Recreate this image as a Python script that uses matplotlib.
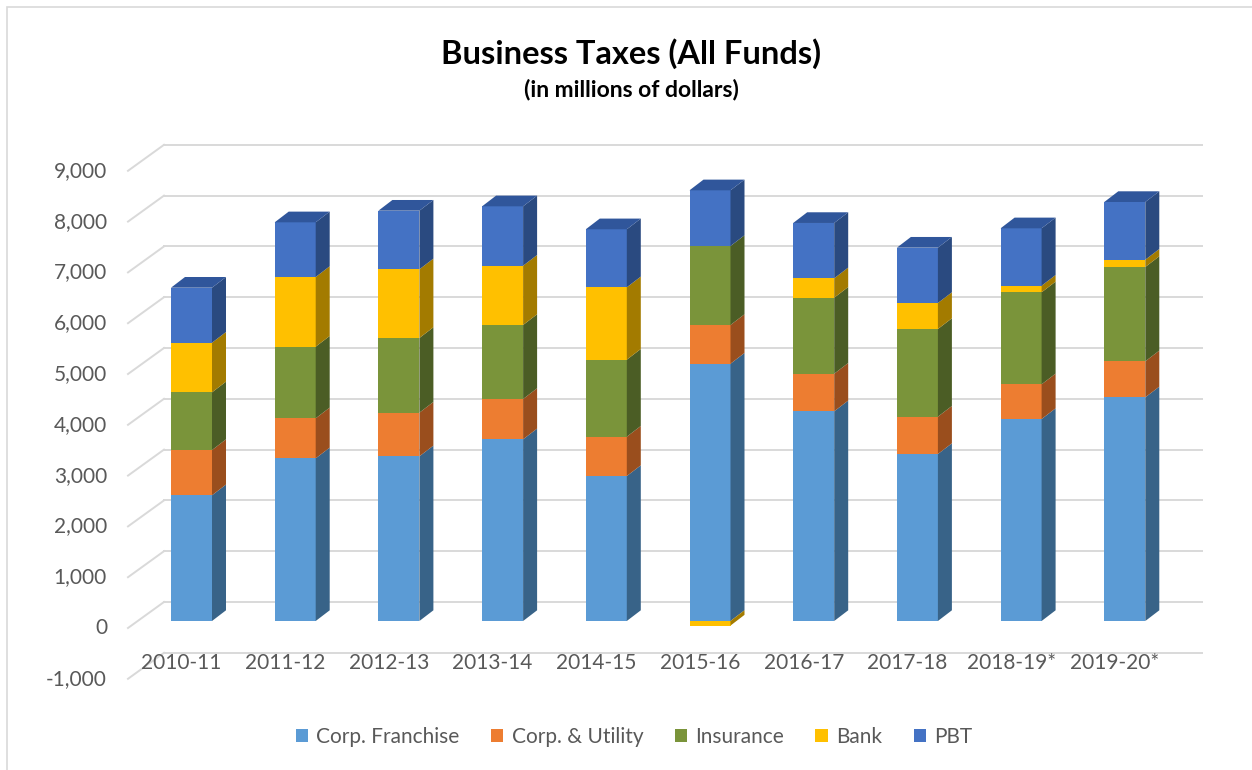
import matplotlib
matplotlib.use("Agg")
import matplotlib.pyplot as plt
from matplotlib.patches import Polygon, Patch, Rectangle

plt.rcParams['font.family'] = ['Lato', 'DejaVu Sans']

# Business taxes by fiscal year, millions of dollars
years = ['2010-11', '2011-12', '2012-13', '2013-14', '2014-15',
         '2015-16', '2016-17', '2017-18', '2018-19*', '2019-20*']
corp_franchise = [2475, 3202, 3242, 3577, 2854, 5065, 4128, 3287, 3976, 4403]
corp_utility = [890, 788, 859, 793, 774, 762, 740, 735, 683, 709]
insurance = [1136, 1410, 1470, 1457, 1516, 1555, 1496, 1726, 1811, 1857]
bank = [977, 1372, 1352, 1167, 1425, -90, 382, 512, 130, 143]
pbt = [1083, 1076, 1154, 1169, 1142, 1096, 1089, 1089, 1130, 1136]

series_names = ['Corp. Franchise', 'Corp. & Utility', 'Insurance', 'Bank', 'PBT']
series = [corp_franchise, corp_utility, insurance, bank, pbt]
y_ticks = list(range(-1000, 9001, 1000))

# front, side, top shades for each series
front = ['#5B9BD5', '#ED7D31', '#7A943A', '#FFC000', '#4472C4']
side = ['#386388', '#9A4E1D', '#4B5D25', '#A37B00', '#2A4A80']
top = ['#4A82B5', '#C4672A', '#657C30', '#D6A200', '#30569B']

W_PX, H_PX = 1252, 770
fig = plt.figure(figsize=(W_PX / 100, H_PX / 100), dpi=100)
ax = fig.add_axes([0, 0, 1, 1])

# one category = 103.7 px, 1000 units = 50.8 px, front zero at y=621 px
x_per_px = 1 / 103.7
y_per_px = 1000 / 50.8
ax.set_xlim((0 - 191.5) * x_per_px, (W_PX - 191.5) * x_per_px)
ax.set_ylim((621 - H_PX) * y_per_px, 621 * y_per_px)
ax.axis('off')

bar_w = 41 * x_per_px
dx, dy = 14 * x_per_px, 10.7 * y_per_px
wall_x0, wall_x1 = (164 - 191.5) * x_per_px, (1202 - 191.5) * x_per_px
wall_dy = 19 * y_per_px
edge_x, edge_dy = (128 - 191.5) * x_per_px, -7 * y_per_px

grid_c = '#D9D9D9'
for v in y_ticks:
    ax.plot([wall_x0, wall_x1], [v + wall_dy, v + wall_dy], color=grid_c, lw=1.4, zorder=1)
    ax.plot([edge_x, wall_x0], [v + edge_dy, v + wall_dy], color=grid_c, lw=1.4, zorder=1)
    ax.text(edge_x - 21 * x_per_px, v + edge_dy, f'{v:,}', ha='right', va='center',
            fontsize=15, color='#595959')

# stacked 3-D looking columns
for i in range(len(years)):
    pos_base, neg_base = 0, 0
    top_seg = None
    for k, vals in enumerate(series):
        v = vals[i]
        if v >= 0:
            y0, y1 = pos_base, pos_base + v
            pos_base = y1
            top_seg = k
        else:
            y0, y1 = neg_base + v, neg_base
            neg_base = y0
        ax.bar(i, y1 - y0, bar_w, bottom=y0, color=front[k], lw=0, zorder=3)
        xr = i + bar_w / 2
        ax.add_patch(Polygon([(xr, y0), (xr + dx, y0 + dy), (xr + dx, y1 + dy), (xr, y1)],
                             closed=True, fc=side[k], lw=0, zorder=3))
    xl, xr = i - bar_w / 2, i + bar_w / 2
    ax.add_patch(Polygon([(xl, pos_base), (xl + dx, pos_base + dy),
                          (xr + dx, pos_base + dy), (xr, pos_base)],
                         closed=True, fc=top[top_seg], lw=0, zorder=3))
    ax.text(i - 10 * x_per_px, (621 - 663) * y_per_px, years[i], ha='center', va='center',
            fontsize=15, color='#595959')

fig.text(631 / W_PX, 1 - 54 / H_PX, 'Business Taxes (All Funds)', ha='center', va='center',
         fontsize=23.5, fontweight='bold', color='black')
fig.text(631 / W_PX, 1 - 90 / H_PX, '(in millions of dollars)', ha='center', va='center',
         fontsize=16.5, fontweight='bold', color='black')

handles = [Patch(facecolor=c, edgecolor='none') for c in front]
fig.legend(handles, series_names, loc='center', bbox_to_anchor=(634 / W_PX, 1 - 737 / H_PX),
           ncol=5, frameon=False, fontsize=15, labelcolor='#595959',
           handlelength=0.6, handleheight=0.6, handletextpad=0.4, columnspacing=1.5)

# chart area border
fig.add_artist(Rectangle((7 / W_PX, -0.1), 1.2, 1 - 7 / H_PX + 0.1, transform=fig.transFigure,
                         fill=False, ec='#D9D9D9', lw=1.2))

fig.savefig('out.png', dpi=100, facecolor='white')
